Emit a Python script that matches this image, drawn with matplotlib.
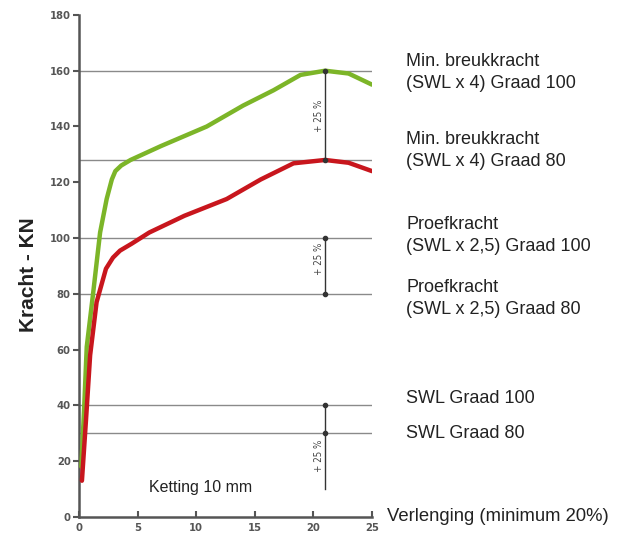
import numpy as np
import matplotlib.pyplot as plt

plt.rcParams['font.family'] = ['Liberation Sans', 'DejaVu Sans']

# Curve data (verlenging in %, kracht in kN).
green_x = [0.2, 0.45, 0.66, 1.2, 1.8, 2.36, 2.8, 3.1, 3.6, 4.4, 7.0, 10.9, 14.0, 16.6, 18.9, 21.0, 23.0, 25.0]
green_y = [18, 40, 61, 80, 102, 114, 121, 124, 126, 128, 133, 140, 147.5, 153, 158.5, 160, 159, 155]
red_x = [0.25, 0.6, 0.95, 1.5, 2.3, 2.9, 3.5, 4.5, 6.0, 9.0, 12.6, 15.5, 18.3, 21.0, 23.0, 25.0]
red_y = [13, 35, 58, 77, 89, 93, 95.5, 98, 102, 108, 114, 121, 126.8, 128, 127, 124]

# Reference levels and labels.
levels = [160, 128, 100, 80, 40, 30]
level_labels = ['Min. breukkracht\n(SWL x 4) Graad 100',
                'Min. breukkracht\n(SWL x 4) Graad 80',
                'Proefkracht\n(SWL x 2,5) Graad 100',
                'Proefkracht\n(SWL x 2,5) Graad 80',
                'SWL Graad 100',
                'SWL Graad 80']
label_y = [159.3, 131.5, 101, 78.3, 42.6, 30]

x_ticks = [0, 5, 10, 15, 20, 25]
y_ticks = [0, 20, 40, 60, 80, 100, 120, 140, 160, 180]

fig = plt.figure(figsize=(6.24, 5.41), dpi=100)
ax = fig.add_axes([0.1266, 0.0444, 0.4696, 0.928])

# Horizontal reference lines.
for lv in levels:
    ax.plot([0, 25], [lv, lv], color='#8a8a8a', lw=1.0, zorder=1)

ax.plot(green_x, green_y, color='#7cb528', lw=3.2, solid_capstyle='round', zorder=3)
ax.plot(red_x, red_y, color='#c8161d', lw=3.2, solid_capstyle='round', zorder=4)

# +25% markers.
arrow_x = 21
ax.plot([arrow_x, arrow_x], [128, 160], color='#333333', lw=1.0, marker='o', ms=3, zorder=5)
ax.plot([arrow_x, arrow_x], [80, 100], color='#333333', lw=1.0, marker='o', ms=3, zorder=5)
ax.plot([arrow_x, arrow_x], [10, 40], color='#333333', lw=1.0, zorder=5)
ax.plot([arrow_x, arrow_x], [30, 40], color='#333333', lw=0, marker='o', ms=3, zorder=5)
for ty in [144, 92.5, 22]:
    ax.text(arrow_x - 0.55, ty, '+ 25 %', rotation=90, ha='center', va='center',
            fontsize=7, color='#444444', family='DejaVu Sans', fontstretch='condensed')

ax.text(10.4, 10.5, 'Ketting 10 mm', ha='center', va='center', fontsize=11.5, color='#222222')

# Right hand labels.
for ly, txt in zip(label_y, level_labels):
    ax.text(27.9, ly, txt, ha='left', va='center', fontsize=13, color='#222222',
            linespacing=1.4, clip_on=False)

ax.text(26.3, 0, 'Verlenging (minimum 20%)', ha='left', va='center', fontsize=13.3,
        color='#222222', clip_on=False)
fig.text(0.045, 0.492, 'Kracht - KN', rotation=90, ha='center', va='center',
         fontsize=15, fontweight='bold', color='#222222')

ax.set_xlim(0, 25)
ax.set_ylim(0, 180)
ax.set_xticks(x_ticks)
ax.set_yticks(y_ticks)
for s in ['top', 'right']:
    ax.spines[s].set_visible(False)
for s in ['left', 'bottom']:
    ax.spines[s].set_color('#555555')
    ax.spines[s].set_linewidth(1.8)
ax.tick_params(axis='y', direction='out', length=4, width=1.5, color='#555555',
               labelsize=8, labelcolor='#555555', pad=2)
ax.tick_params(axis='x', direction='in', length=4, width=1.5, color='#555555',
               labelsize=8, labelcolor='#555555', pad=4)
for lab in ax.get_xticklabels() + ax.get_yticklabels():
    lab.set_family('DejaVu Sans')
    lab.set_fontweight('bold')
    lab.set_fontstretch('condensed')

fig.savefig('out.png', dpi=100)
